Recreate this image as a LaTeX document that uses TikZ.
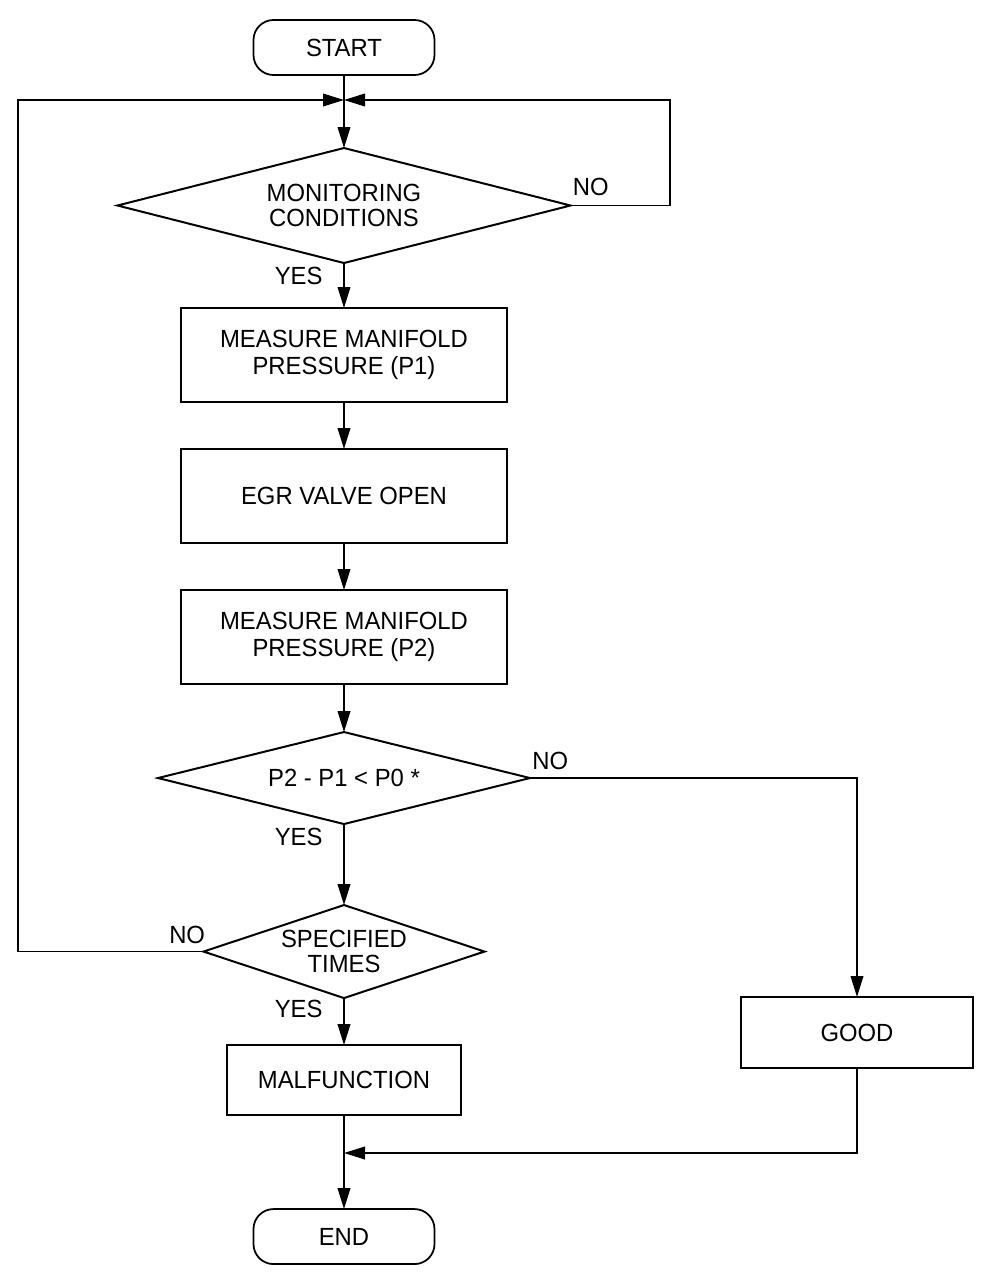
\documentclass[tikz,border=0pt]{standalone}
\usepackage{fontspec}
\setmainfont{Liberation Sans}[FakeStretch=0.96]
\usetikzlibrary{shapes.geometric,arrows.meta,positioning}
\tikzset{
    %Define standard arrow tip
    >={Triangle[length=0.315cm,width=0.19cm]},
    %Define style for start and end
    terminal/.style={
           rectangle,
           rounded corners=0.3cm,
           draw=black,
           line width=0.75pt,
           minimum width=2.715cm,
           minimum height=0.825cm,
           inner sep=0pt,
           outer sep=0pt},
    %Define style for boxes
    block/.style={
           rectangle,
           draw=black,
           line width=1.1pt,
           minimum width=4.89cm,
           minimum height=1.41cm,
           inner sep=0pt,
           outer sep=0pt,
           align=center},
    %Define style for decisions
    decision/.style={
           diamond,
           draw=black,
           line width=0.85pt,
           aspect=3,
           inner sep=0pt,
           outer sep=0pt,
           align=center,
           font=\fontsize{10.6}{10.5}\selectfont},
    %Define style for yes/no labels
    answer/.style={
           inner sep=0pt},
    % Define arrow style
    arrow/.style={
           ->,
           line width=0.7pt},
    line/.style={
           line width=0.7pt}
}
\begin{document}
\begin{tikzpicture}[x=0.015cm, y=-0.015cm, font=\fontsize{10.6}{11.5}\selectfont]
    \useasboundingbox (0,0) rectangle (1008,1276);
    \node [terminal] (start) at (344,47.5) {START};
    \node [decision, minimum width=6.795cm, minimum height=1.725cm, below=1.095cm of start] (mon) {MONITORING\\CONDITIONS};
    \node [block, below=0.675cm of mon] (p1) {MEASURE MANIFOLD\\PRESSURE (P1)};
    \node [block, below=0.705cm of p1] (egr) {EGR VALVE OPEN};
    \node [block, below=0.705cm of egr] (p2) {MEASURE MANIFOLD\\PRESSURE (P2)};
    \node [decision, minimum width=5.58cm, minimum height=1.38cm, below=0.72cm of p2] (diff) {P2 - P1 < P0 *};
    \node [decision, minimum width=4.215cm, minimum height=1.395cm, below=1.215cm of diff] (times) {SPECIFIED\\TIMES};
    \node [block, minimum width=3.51cm, minimum height=1.05cm, below=0.705cm of times] (malf) {MALFUNCTION};
    \node [terminal, below=1.41cm of malf] (end) {END};
    \node [block, minimum width=3.48cm, minimum height=1.065cm] (good) at (857,1032.5) {GOOD};

    \coordinate (join) at (344,100);
    \coordinate (leftrail) at (18,100);
    \coordinate (rightrail) at (670,100);
    \coordinate (endjoin) at (344,1153);

    \draw[line] (start) -- (join);
    \path (join) edge[arrow] (mon);
    \draw[arrow] (mon.east) -| (rightrail) -- (join);
    \draw[arrow] (times.west) -| (leftrail) -- (join);
    \path (mon) edge[arrow] (p1);
    \path (p1) edge[arrow] (egr);
    \path (egr) edge[arrow] (p2);
    \path (p2) edge[arrow] (diff);
    \path (diff) edge[arrow] (times);
    \path (times) edge[arrow] (malf);
    \draw[arrow] (diff.east) -| (good.north);
    \path (malf) edge[arrow] (end);
    \draw[arrow] (good.south) |- (endjoin);

    \node [answer, anchor=south west] at ([xshift=0.03cm, yshift=0.135cm]mon.east) {NO};
    \node [answer, anchor=north east] at ([xshift=-0.315cm, yshift=-0.06cm]mon.south) {YES};
    \node [answer, anchor=south west] at ([xshift=0.03cm, yshift=0.12cm]diff.east) {NO};
    \node [answer, anchor=north east] at ([xshift=-0.315cm, yshift=-0.06cm]diff.south) {YES};
    \node [answer, anchor=south east] at ([xshift=0.03cm, yshift=0.105cm]times.west) {NO};
    \node [answer, anchor=north east] at ([xshift=-0.315cm, yshift=-0.03cm]times.south) {YES};
\end{tikzpicture}
\end{document}
